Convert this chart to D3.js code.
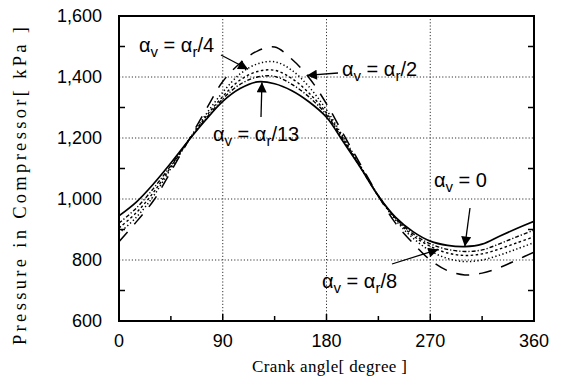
<!DOCTYPE html>
<html>
<head>
<meta charset="utf-8">
<script src="https://cdn.jsdelivr.net/npm/d3@7"></script>
<style>
  html, body { margin: 0; padding: 0; background: #fff; }
  svg { display: block; }
</style>
</head>
<body>
<svg id="chart" width="561" height="386"></svg>
<script>
// Crank angle samples (degrees)
const angles = [0, 15, 30, 45, 60, 75, 90, 105, 120, 135, 150, 165, 180,
                195, 210, 225, 240, 255, 270, 285, 300, 315, 330, 345, 360];

// Compressor pressure [kPa] for each valve-angle setting
const pAlpha0  = [945, 990, 1050, 1118, 1190, 1258, 1320, 1362, 1384, 1378, 1355, 1318, 1268,
                  1185, 1100, 1010, 940, 893, 862, 848, 844, 852, 878, 903, 927];
const pAlpha13 = [921, 970, 1035, 1110, 1190, 1262, 1328, 1376, 1400, 1402, 1376, 1334, 1276,
                  1190, 1100, 1010, 937, 886, 853, 835, 828, 833, 853, 876, 898];
const pAlpha8  = [905, 955, 1022, 1105, 1190, 1268, 1336, 1390, 1418, 1422, 1395, 1347, 1282,
                  1195, 1103, 1010, 935, 880, 845, 823, 815, 820, 836, 856, 876];
const pAlpha4  = [888, 940, 1010, 1100, 1190, 1275, 1350, 1410, 1443, 1450, 1422, 1367, 1292,
                  1200, 1105, 1010, 930, 872, 830, 805, 795, 800, 816, 836, 857];
const pAlpha2  = [860, 925, 995, 1090, 1190, 1290, 1385, 1445, 1485, 1498, 1458, 1397, 1312,
                  1210, 1110, 1010, 920, 855, 800, 765, 751, 757, 775, 800, 826];

const seriesNames = ["a0", "a13", "a8", "a4", "a2"];
const seriesValues = [pAlpha0, pAlpha13, pAlpha8, pAlpha4, pAlpha2];

// Axis ticks
const xTicks = [0, 90, 180, 270, 360];
const xMinorTicks = [45, 135, 225, 315];
const yTicks = [600, 800, 1000, 1200, 1400, 1600];
const yMinorTicks = [700, 900, 1100, 1300, 1500];

const svg = d3.select("#chart");
const margin = { left: 119, right: 27, top: 16, bottom: 65 };
const W = 561, H = 386;

const x = d3.scaleLinear().domain([0, 360]).range([margin.left, W - margin.right]);
const y = d3.scaleLinear().domain([600, 1600]).range([H - margin.bottom, margin.top]);

const sansFont = "'Liberation Sans', Arial, sans-serif";
const serifFont = "'Liberation Serif', 'Times New Roman', serif";

// Dotted grid
const grid = svg.append("g").attr("stroke", "#333").attr("stroke-width", 1)
  .attr("stroke-dasharray", "1.2,2");
grid.selectAll("line.gx").data(xTicks.slice(1, -1)).join("line")
  .attr("x1", d => x(d)).attr("x2", d => x(d))
  .attr("y1", y(600)).attr("y2", y(1600));
grid.selectAll("line.gy").data(yTicks.slice(1, -1)).join("line")
  .attr("x1", x(0)).attr("x2", x(360))
  .attr("y1", d => y(d)).attr("y2", d => y(d));

// Curves
const line = d3.line()
  .x((d, i) => x(angles[i]))
  .y(d => y(d))
  .curve(d3.curveCatmullRom.alpha(0.5));

const styles = {
  a0:  { dash: null,        w: 1.7 },
  a13: { dash: "4,2,1.2,2", w: 1.4 },
  a8:  { dash: "2.5,2.5",   w: 1.4 },
  a4:  { dash: "1.3,2.4",   w: 1.5 },
  a2:  { dash: "13,10",     w: 1.5 }
};

const clipId = "plotclip";
svg.append("clipPath").attr("id", clipId).append("rect")
  .attr("x", x(0)).attr("y", y(1600)).attr("width", x(360) - x(0)).attr("height", y(600) - y(1600));

svg.append("g").attr("clip-path", `url(#${clipId})`)
  .selectAll("path.curve").data(seriesNames).join("path")
  .attr("class", "curve")
  .attr("d", (k, i) => line(seriesValues[i]))
  .attr("fill", "none")
  .attr("stroke", "#000")
  .attr("stroke-width", k => styles[k].w)
  .attr("stroke-dasharray", k => styles[k].dash);

// Frame
svg.append("rect")
  .attr("x", x(0)).attr("y", y(1600))
  .attr("width", x(360) - x(0)).attr("height", y(600) - y(1600))
  .attr("fill", "none").attr("stroke", "#000").attr("stroke-width", 2);

// Inward minor ticks
const ticks = svg.append("g").attr("stroke", "#000").attr("stroke-width", 1.5);
ticks.selectAll("line.yl").data(yMinorTicks).join("line")
  .attr("x1", x(0)).attr("x2", x(0) + 6).attr("y1", d => y(d)).attr("y2", d => y(d));
ticks.selectAll("line.yr").data(yMinorTicks).join("line")
  .attr("x1", x(360)).attr("x2", x(360) - 6).attr("y1", d => y(d)).attr("y2", d => y(d));
ticks.selectAll("line.xb").data(xMinorTicks).join("line")
  .attr("x1", d => x(d)).attr("x2", d => x(d)).attr("y1", y(600)).attr("y2", y(600) - 5);
ticks.selectAll("line.xbm").data(xTicks.slice(1, -1)).join("line")
  .attr("x1", d => x(d)).attr("x2", d => x(d)).attr("y1", y(600)).attr("y2", y(600) - 7);

// Tick labels
const fmt = d3.format(",");
svg.append("g").selectAll("text").data(yTicks).join("text")
  .attr("x", x(0) - 17).attr("y", d => y(d)).attr("dy", "0.36em")
  .attr("text-anchor", "end")
  .style("font-family", sansFont).style("font-size", "18px")
  .text(d => fmt(d));

svg.append("g").selectAll("text").data(xTicks).join("text")
  .attr("x", d => x(d)).attr("y", y(600) + 20).attr("dy", "0.36em")
  .attr("text-anchor", "middle")
  .style("font-family", sansFont).style("font-size", "18px")
  .text(d => d);

// Axis titles
svg.append("text")
  .attr("x", (x(0) + x(360)) / 2 + 3).attr("y", 372)
  .attr("text-anchor", "middle")
  .attr("textLength", 155).attr("lengthAdjust", "spacing")
  .style("font-family", serifFont).style("font-size", "17px")
  .text("Crank angle[ degree ]");

svg.append("text")
  .attr("transform", `translate(26, 186) rotate(-90)`)
  .attr("text-anchor", "middle")
  .attr("textLength", 318).attr("lengthAdjust", "spacing")
  .style("font-family", serifFont).style("font-size", "18.5px")
  .text("Pressure in Compressor[ kPa ]");

// Arrowhead marker
svg.append("defs").append("marker")
  .attr("id", "head").attr("viewBox", "0 0 10 10")
  .attr("refX", 10).attr("refY", 5)
  .attr("markerWidth", 12).attr("markerHeight", 10)
  .attr("markerUnits", "userSpaceOnUse")
  .attr("orient", "auto")
  .append("path").attr("d", "M0,0 L10,5 L0,10 Z").attr("fill", "#000");

// Annotations: label suffix, series, tip angle, tail and text position
const notes = [
  { sub: "/4",  series: "a4",  tipAngle: 112, tail: [221, 55],  text: [139, 52] },
  { sub: "/2",  series: "a2",  tipAngle: 163, tail: [338, 73],  text: [342, 76] },
  { sub: "/13", series: "a0",  tipAngle: 124, tail: [261, 117], text: [213, 141] },
  { sub: "0",   series: "a0",  tipAngle: 300, tail: [470, 208], text: [434, 187] },
  { sub: "/8",  series: "a8",  tipAngle: 277, tail: [392, 264], text: [322, 288] }
];

function valueAt(seriesKey, ang) {
  const vals = seriesValues[seriesNames.indexOf(seriesKey)];
  return d3.scaleLinear().domain(angles).range(vals)(ang);
}

const ann = svg.append("g");
notes.forEach(n => {
  const tipY = y(valueAt(n.series, n.tipAngle));
  ann.append("line")
    .attr("x1", n.tail[0]).attr("y1", n.tail[1])
    .attr("x2", x(n.tipAngle)).attr("y2", tipY)
    .attr("stroke", "#000").attr("stroke-width", 1.3)
    .attr("marker-end", "url(#head)");

  const t = ann.append("text")
    .attr("x", n.text[0]).attr("y", n.text[1])
    .style("font-family", sansFont).style("font-size", "20px");
  t.append("tspan").text("α");
  t.append("tspan").attr("dy", 5).style("font-size", "15px").text("v");
  if (n.sub === "0") {
    t.append("tspan").attr("dy", -5).text(" = 0");
  } else {
    t.append("tspan").attr("dy", -5).text(" = α");
    t.append("tspan").attr("dy", 5).style("font-size", "15px").text("r");
    t.append("tspan").attr("dy", -5).text(n.sub);
  }
});
</script>
</body>
</html>
